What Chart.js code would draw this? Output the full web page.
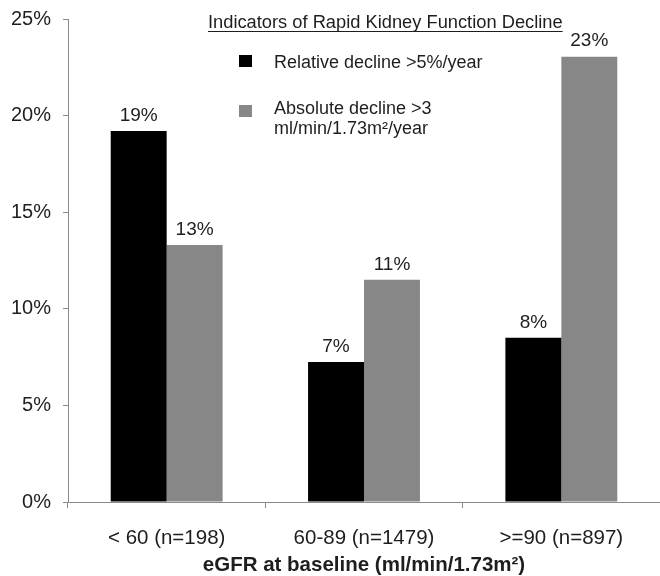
<!DOCTYPE html>
<html>
<head>
<meta charset="utf-8">
<script src="https://cdn.jsdelivr.net/npm/chart.js@4"></script>
<style>
  html, body { margin: 0; padding: 0; background: #fff; }
  #wrap { width: 660px; height: 576px; overflow: hidden; }
</style>
</head>
<body>
<div id="wrap"><canvas id="chart" width="660" height="576"></canvas></div>
<script>
// datos
const categorias = ['< 60 (n=198)', '60-89 (n=1479)', '>=90 (n=897)'];
const relativo = [19.2, 7.25, 8.5];      // Relative decline >5%/year
const absoluto = [13.3, 11.5, 23.05];    // Absolute decline >3 ml/min/1.73m2/year
const etiquetasRel = ['19%', '7%', '8%'];
const etiquetasAbs = ['13%', '11%', '23%'];
const ticksY = [0, 5, 10, 15, 20, 25];

const fuente = '"Liberation Sans", Arial, sans-serif';
const texto = '#1e1e1e';
const gris = '#8a8a8a';

// etiquetas encima de las barras
const etiquetasBarras = {
    id: 'etiquetasBarras',
    afterDatasetsDraw(chart) {
        const ctx = chart.ctx;
        const listas = [etiquetasRel, etiquetasAbs];
        ctx.save();
        ctx.font = '19px ' + fuente;
        ctx.fillStyle = texto;
        ctx.textAlign = 'center';
        ctx.textBaseline = 'bottom';
        chart.data.datasets.forEach(function (ds, i) {
            chart.getDatasetMeta(i).data.forEach(function (bar, j) {
                ctx.fillText(listas[i][j], bar.x, bar.y - 6);
            });
        });
        ctx.restore();
    }
};

// leyenda dentro del grafico
const leyenda = {
    id: 'leyenda',
    afterDraw(chart) {
        const ctx = chart.ctx;
        ctx.save();
        ctx.fillStyle = texto;
        ctx.textBaseline = 'alphabetic';
        ctx.textAlign = 'left';
        ctx.font = '18.3px ' + fuente;
        const titulo = 'Indicators of Rapid Kidney Function Decline';
        ctx.fillText(titulo, 208, 28);
        const w = ctx.measureText(titulo).width;
        ctx.strokeStyle = texto;
        ctx.lineWidth = 1;
        ctx.beginPath();
        ctx.moveTo(208, 31.5);
        ctx.lineTo(208 + w, 31.5);
        ctx.stroke();

        ctx.font = '18px ' + fuente;
        const ds = chart.data.datasets;
        // negro
        ctx.fillStyle = ds[0].backgroundColor;
        ctx.fillRect(239, 55, 13, 12);
        ctx.fillStyle = texto;
        ctx.fillText(ds[0].label, 274, 68);
        // gris
        ctx.fillStyle = ds[1].backgroundColor;
        ctx.fillRect(239, 105, 13, 12);
        ctx.fillStyle = texto;
        ctx.fillText('Absolute decline >3', 274, 114);
        ctx.fillText('ml/min/1.73m\u00B2/year', 274, 134);
        ctx.restore();
    }
};

const ctx = document.getElementById('chart');

new Chart(ctx, {
    type: 'bar',
    data: {
        labels: categorias,
        datasets: [{
            label: 'Relative decline >5%/year',
            data: relativo,
            backgroundColor: '#000000'
        }, {
            label: 'Absolute decline >3 ml/min/1.73m\u00B2/year',
            data: absoluto,
            backgroundColor: '#878787'
        }]
    },
    options: {
        responsive: false,
        animation: false,
        // el grafico original esta recortado a la derecha
        layout: { padding: { top: 19, right: -10, left: 0, bottom: 0 } },
        datasets: {
            bar: { categoryPercentage: 0.567, barPercentage: 1.0 }
        },
        plugins: {
            legend: { display: false },
            tooltip: { enabled: false }
        },
        scales: {
            x: {
                grid: { display: true, drawOnChartArea: false, tickLength: 6, color: gris },
                border: { color: gris, width: 1 },
                ticks: { color: texto, font: { family: fuente, size: 20.5 }, padding: 18 },
                title: {
                    display: true,
                    text: 'eGFR at baseline (ml/min/1.73m\u00B2)',
                    color: texto,
                    font: { family: fuente, size: 20.5, weight: 'bold', lineHeight: 1.0 },
                    padding: { top: 4, bottom: 0 }
                },
                afterFit: function (s) { s.height = 74; }
            },
            y: {
                min: 0,
                max: 25,
                afterBuildTicks: function (s) { s.ticks = ticksY.map(function (v) { return { value: v }; }); },
                grid: { display: true, drawOnChartArea: false, tickLength: 5, color: gris },
                border: { color: gris, width: 1 },
                ticks: {
                    color: texto,
                    font: { family: fuente, size: 20 },
                    padding: 12,
                    callback: function (v) { return v + '%'; }
                },
                afterFit: function (s) {
                    s.width = 68;
                    s.paddingTop = 0;
                    s.paddingBottom = 0;
                }
            }
        }
    },
    plugins: [etiquetasBarras, leyenda]
});
</script>
</body>
</html>
